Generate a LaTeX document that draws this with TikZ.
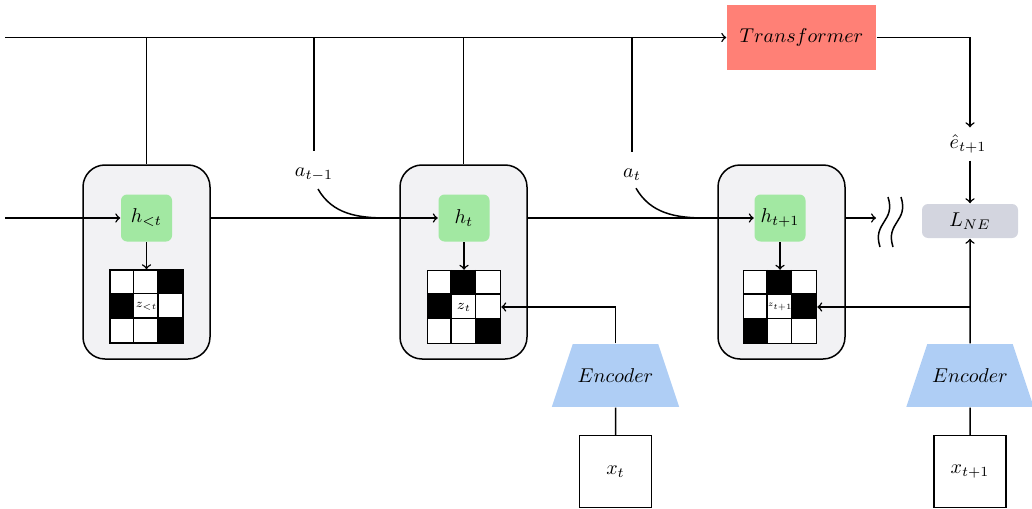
\documentclass[tikz,border=0pt]{standalone}
\usepackage[dvipsnames]{xcolor}
\usepackage{tikz}
\usetikzlibrary{shapes.geometric}

\definecolor{trfred}{HTML}{FF8076}
\definecolor{hgreen}{HTML}{A2E8A2}
\definecolor{encblue}{HTML}{AFCEF5}
\definecolor{lossgray}{HTML}{D3D5DF}
\definecolor{cellgray}{HTML}{F2F2F4}

\begin{document}
\begin{tikzpicture}[x=0.5pt, y=-0.5pt, line width=0.75pt,
    cellbox/.style={draw, fill=cellgray, rounded corners=11pt, minimum width=63.5pt, minimum height=97pt},
    hbox/.style={fill=hgreen, rounded corners=3pt, minimum width=25.5pt, minimum height=23.5pt, inner sep=0pt},
    zgrid/.style={draw, fill=white, minimum size=36.5pt, inner sep=0pt},
    encbox/.style={trapezium, fill=encblue, trapezium left angle=71.6, trapezium right angle=71.6, inner xsep=2.5pt, inner ysep=12.2pt},
    xbox/.style={draw, fill=white, minimum size=36pt, inner sep=0pt}]
    \useasboundingbox (0,0) rectangle (1032,508);

    % recurrent cells
    \node[cellbox] (c1) at (146.5,262) {};
    \node[cellbox] (c2) at (463.5,262) {};
    \node[cellbox] (c3) at (781.5,262) {};

    \node[hbox] (h1) at (146.5,218) {$h_{<t}$};
    \node[hbox] (h2) at (464,218) {$h_t$};
    \node[hbox] (h3) at (780,218) {$h_{t+1}$};

    \node[zgrid] (z1) at (146.5,306.5) {};
    \node[zgrid] (z2) at (464,307) {};
    \node[zgrid] (z3) at (780,307) {};

    % black cells of the latent grids
    \foreach \g/\cells in {z1/{2/0,0/1,2/2}, z2/{1/0,0/1,2/2}, z3/{1/0,2/1,0/2}} {
        \foreach \c/\r in \cells
            \fill ([shift={(\c*24.33,\r*24.33)}]\g.north west) rectangle ++(24.33,24.33);
        \foreach \k in {1,2} {
            \draw ([xshift=\k*12.17pt]\g.north west) -- ([xshift=\k*12.17pt]\g.south west);
            \draw ([yshift=-\k*12.17pt]\g.north west) -- ([yshift=-\k*12.17pt]\g.north east);
        }
    }
    \node[font=\scriptsize, scale=0.85, inner sep=0pt] (zl1) at (z1) {$z_{<t}$};
    \node[font=\scriptsize, inner sep=0pt] (zl2) at (z2) {$z_t$};
    \node[font=\tiny, scale=0.8, inner sep=0pt] (zl3) at (z3) {$z_{t+1}$};

    \draw[->] (h1.south) -- (z1.north);
    \draw[->] (h2.south) -- (z2.north);
    \draw[->] (h3.south) -- (z3.north);

    % top row
    \node[fill=trfred, minimum width=74.5pt, minimum height=32.5pt] (tr) at (801.5,37.5) {$Transformer$};
    \node (ehat) at (968,144) {$\hat{e}_{t+1}$};
    \node[fill=lossgray, rounded corners=3pt, minimum width=48pt, minimum height=17pt] (lne) at (970,221) {$L_{NE}$};

    \node (a1) at (314,175) {$a_{t-1}$};
    \node (a2) at (632,175) {$a_t$};

    \coordinate (in0) at (5,37.5);
    \draw[->] (in0) -- (tr.west);
    \draw (c1.north |- in0) -- (c1.north);
    \draw (a1.north |- in0) -- ([yshift=5pt]a1.north);
    \draw (c2.north |- in0) -- (c2.north);
    \draw (a2.north |- in0) -- ([yshift=5pt]a2.north);
    \draw[->] (tr.east) -| (lne.north |- ehat.north);
    \draw[->] (lne.north |- ehat.south) -- (lne.north);

    % hidden state chain
    \coordinate (in1) at (5,218);
    \coordinate (cut) at (876,218);
    \draw[->] (in1) -- (h1.west);
    \draw[->] (c1.east |- h2.west) -- (h2.west);
    \draw[->] (c2.east |- h3.west) -- (h3.west);
    \draw[->] (c3.east |- cut) -- (cut);
    \draw (880,247) .. controls (872,222) and (896,222) .. (888,197);
    \draw (893,247) .. controls (885,222) and (909,222) .. (901,197);

    \coordinate (m2) at (c2.west |- h2.west);
    \coordinate (m3) at (c3.west |- h3.west);
    \draw ([xshift=2pt]a1.south) to[out=-60, in=180] ([xshift=-6pt]m2);
    \draw ([xshift=2pt]a2.south) to[out=-60, in=180] ([xshift=-6pt]m3);

    % encoders
    \node[encbox] (enc1) at (615.5,375.5) {$Encoder$};
    \node[encbox] (enc2) at (970,375.5) {$Encoder$};
    \node[xbox] (x1) at (615.5,471.5) {$x_t$};
    \node[xbox] (x2) at (970,471.5) {$x_{t+1}$};

    \draw (x1.north) -- (enc1.south);
    \draw (x2.north) -- (enc2.south);
    \draw[->] (enc1.north) |- (z2.east);
    \draw[->] (enc2.north) -- (lne.south);
    \draw[->] (enc2.north |- z3.east) -- (z3.east);
\end{tikzpicture}
\end{document}
